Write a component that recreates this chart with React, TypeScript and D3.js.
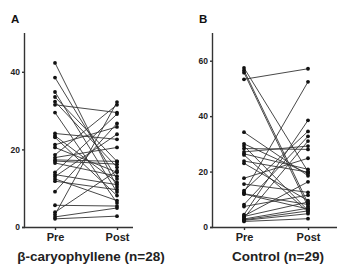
import { useRef, useEffect } from 'react'
import { select, scaleLinear, scalePoint, axisLeft, axisBottom } from 'd3'

// paired measurements, Pre -> Post
const groups = ['Pre', 'Post']

const caryoPre = [
  42.3, 38.5, 34.8, 33.5, 32.3, 31.5, 29.5, 24.1, 23.5, 23.1, 21.2, 20.5, 18.6, 17.9,
  17.3, 17.0, 16.5, 14.1, 13.5, 13.0, 12.4, 11.8, 9.1, 5.6, 3.8, 3.2, 2.6, 2.1,
]
const caryoPost = [
  10.3, 12.4, 9.0, 16.9, 15.4, 29.5, 6.2, 22.6, 11.5, 8.1, 25.8, 14.1, 31.5, 20.5,
  16.9, 16.2, 13.1, 29.1, 10.9, 23.9, 6.8, 9.6, 26.7, 5.4, 14.5, 32.2, 4.9, 2.8,
]

const controlPre = [
  57.4, 56.5, 55.7, 53.3, 34.2, 30.0, 29.2, 28.3, 27.1, 26.4, 26.0, 23.8, 23.0, 17.6,
  15.5, 13.1, 12.5, 12.0, 11.9, 8.1, 7.4, 4.5, 4.0, 3.8, 3.3, 2.9, 2.6, 2.4, 2.0,
]
const controlPost = [
  20.0, 8.6, 7.4, 57.1, 18.5, 19.3, 6.0, 28.0, 29.2, 20.8, 5.4, 19.8, 9.5, 24.8,
  12.5, 34.5, 52.4, 8.1, 6.5, 32.7, 11.5, 38.5, 16.3, 9.0, 31.0, 6.8, 5.8, 4.8, 3.0,
]

const caryoTicks = [0, 20, 40]
const controlTicks = [0, 20, 40, 60]

const font = 'Liberation Sans, Arial, sans-serif'

type Panel = {
  letter: string
  title: string
  pre: number[]
  post: number[]
  yMax: number
  ticks: number[]
  left: number
  right: number
  xPre: number
  xPost: number
  titleX: number
}

const panels: Panel[] = [
  {
    letter: 'A',
    title: 'β-caryophyllene (n=28)',
    pre: caryoPre,
    post: caryoPost,
    yMax: 50,
    ticks: caryoTicks,
    left: 25,
    right: 133,
    xPre: 55,
    xPost: 117,
    titleX: 91,
  },
  {
    letter: 'B',
    title: 'Control (n=29)',
    pre: controlPre,
    post: controlPost,
    yMax: 70,
    ticks: controlTicks,
    left: 213,
    right: 337,
    xPre: 244,
    xPost: 308,
    titleX: 278,
  },
]

const App = () => {
  const svgRef = useRef(null)

  useEffect(() => {
    const svg = select(svgRef.current)
    svg.selectAll('*').remove()

    const top = 33
    const bottom = 227

    panels.forEach((p) => {
      const g = svg.append('g')

      const yScale = scaleLinear().domain([0, p.yMax]).range([bottom, top])
      // point scale mapped so Pre/Post land where the dots sit
      const xScale = scalePoint<string>().domain(groups).range([p.xPre, p.xPost])

      const yAxis = axisLeft(yScale).tickValues(p.ticks).tickSize(3).tickPadding(2)
      const yAxisGroup = g.append('g').attr('transform', `translate(${p.left},0)`).call(yAxis)
      yAxisGroup.select('.domain').attr('d', `M-0.5,${top}V${bottom}`)

      const xAxis = axisBottom(xScale).tickSize(3).tickPadding(3)
      const xAxisGroup = g.append('g').attr('transform', `translate(0,${bottom})`).call(xAxis)
      xAxisGroup.select('.domain').attr('d', `M${p.left - 3},0.5H${p.right}`)

      g.selectAll('.domain, .tick line').attr('stroke', '#333').attr('stroke-width', 1.4)
      yAxisGroup
        .selectAll('text')
        .attr('font-family', font)
        .attr('font-size', 8.5)
        .attr('font-weight', 'bold')
        .attr('fill', '#222')
      xAxisGroup
        .selectAll('text')
        .attr('font-family', font)
        .attr('font-size', 11)
        .attr('font-weight', 'bold')
        .attr('fill', '#222')

      const pairs = p.pre.map((v, i) => [v, p.post[i]])

      g.append('g')
        .selectAll('line')
        .data(pairs)
        .join('line')
        .attr('x1', xScale('Pre')!)
        .attr('x2', xScale('Post')!)
        .attr('y1', (d) => yScale(d[0]))
        .attr('y2', (d) => yScale(d[1]))
        .attr('stroke', '#333')
        .attr('stroke-width', 0.9)

      groups.forEach((grp, gi) => {
        g.append('g')
          .selectAll('circle')
          .data(pairs)
          .join('circle')
          .attr('cx', xScale(grp)!)
          .attr('cy', (d) => yScale(d[gi]))
          .attr('r', 1.9)
          .attr('fill', '#111')
      })

      g.append('text')
        .text(p.letter)
        .attr('x', p.left - 14)
        .attr('y', 23)
        .attr('font-family', font)
        .attr('font-size', 11.5)
        .attr('font-weight', 'bold')
        .attr('fill', '#111')

      g.append('text')
        .text(p.title)
        .attr('x', p.titleX)
        .attr('y', 261)
        .attr('text-anchor', 'middle')
        .attr('font-family', font)
        .attr('font-size', 13.5)
        .attr('font-weight', 'bold')
        .attr('fill', '#222')
    })
  }, [])

  return (
    <svg
      ref={svgRef}
      width={337}
      height={267}
      style={{ position: 'absolute', left: 0, top: 0, background: '#fff' }}
    ></svg>
  )
}

export default App
